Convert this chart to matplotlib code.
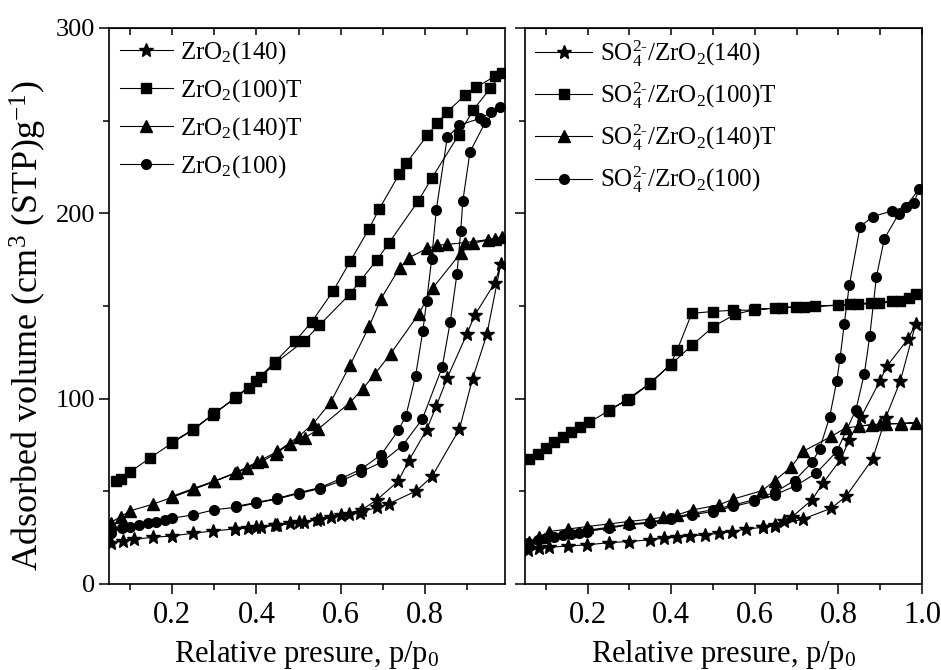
import matplotlib
matplotlib.use("Agg")
import matplotlib.pyplot as plt
from matplotlib.ticker import MultipleLocator

plt.rcParams["font.family"] = ["Liberation Serif", "DejaVu Serif"]
plt.rcParams["mathtext.fontset"] = "custom"
plt.rcParams["mathtext.rm"] = "Liberation Serif"
plt.rcParams["mathtext.it"] = "Liberation Serif:italic"
plt.rcParams["mathtext.default"] = "rm"

# ---- left panel: ZrO2 samples (adsorption branch then desorption branch) ----
zr140_p = [0.056, 0.084, 0.109, 0.155, 0.2, 0.25, 0.298, 0.349, 0.38, 0.412, 0.443, 0.48,
           0.514, 0.545, 0.576, 0.62, 0.647, 0.686, 0.714, 0.78, 0.817, 0.882, 0.913, 0.947, 0.98,
           0.966, 0.918, 0.9, 0.853, 0.827, 0.804, 0.762, 0.736, 0.686, 0.65, 0.6, 0.55, 0.5,
           0.45, 0.4, 0.35]
zr140_v = [22.3, 23.4, 24.1, 25.2, 25.9, 27.4, 28.6, 29.7, 30.4, 31.0, 31.7, 32.8,
           33.5, 34.6, 36.0, 37.5, 38.5, 41.4, 43.2, 50.3, 58.0, 83.6, 110.6, 134.6, 172.4,
           162.5, 144.9, 135.0, 111.2, 95.9, 83.2, 66.6, 55.3, 45.4, 40.0, 37.2, 35.0, 33.2,
           31.8, 30.6, 29.6]

zr100t_p = [0.067, 0.078, 0.1, 0.147, 0.2, 0.25, 0.297, 0.352, 0.382, 0.412, 0.443, 0.513,
            0.549, 0.621, 0.646, 0.686, 0.714, 0.784, 0.816, 0.88, 0.915, 0.955, 0.982,
            0.966, 0.921, 0.896, 0.853, 0.829, 0.806, 0.756, 0.739, 0.692, 0.667, 0.623,
            0.582, 0.531, 0.492, 0.443, 0.399, 0.35, 0.3, 0.25, 0.2]
zr100t_v = [55.3, 56.6, 60.4, 67.9, 76.1, 83.2, 91.4, 100.7, 106.0, 111.7, 118.9, 131.0,
            139.5, 156.2, 163.4, 174.8, 183.8, 206.6, 218.8, 242.2, 255.8, 267.4, 275.5,
            273.9, 267.9, 263.8, 254.8, 248.6, 242.2, 227.0, 221.1, 202.5, 191.5, 174.2,
            158.0, 141.3, 131.0, 119.5, 109.7, 100.5, 92.0, 83.5, 76.5]

zr140t_p = [0.054, 0.078, 0.101, 0.155, 0.2, 0.253, 0.3, 0.355, 0.378, 0.413, 0.446, 0.48,
            0.515, 0.547, 0.621, 0.652, 0.682, 0.719, 0.786, 0.819, 0.886, 0.915, 0.949, 0.984,
            0.966, 0.896, 0.853, 0.829, 0.806, 0.762, 0.74, 0.696, 0.668, 0.623, 0.576,
            0.535, 0.5, 0.45, 0.402, 0.35, 0.3, 0.25, 0.2]
zr140t_v = [33.1, 36.4, 39.5, 43.1, 46.8, 51.2, 55.3, 60.2, 62.5, 66.1, 70.3, 75.7,
            78.8, 83.6, 97.7, 105.2, 113.5, 124.3, 145.9, 159.8, 178.8, 183.8, 185.6, 187.2,
            186.3, 184.2, 183.2, 182.7, 181.1, 176.0, 170.6, 154.0, 139.1, 118.4, 98.0,
            86.5, 79.5, 71.5, 65.8, 60.0, 55.5, 51.5, 47.3]

zr100_p = [0.056, 0.08, 0.101, 0.122, 0.143, 0.162, 0.182, 0.2, 0.25, 0.3, 0.351, 0.4,
           0.45, 0.5, 0.551, 0.6, 0.649, 0.698, 0.747, 0.794, 0.841, 0.86, 0.876, 0.885,
           0.89, 0.907, 0.943, 0.978,
           0.958, 0.931, 0.882, 0.853, 0.827, 0.816, 0.804, 0.795, 0.778, 0.755, 0.737,
           0.696, 0.649, 0.6, 0.551, 0.5, 0.45, 0.4, 0.351]
zr100_v = [27.4, 30.1, 31.0, 31.9, 32.8, 33.7, 34.6, 35.5, 37.3, 40.0, 41.4, 43.6,
           45.9, 48.7, 51.5, 55.5, 60.5, 65.8, 74.7, 89.0, 117.0, 141.2, 167.0, 190.4,
           206.6, 233.1, 249.0, 257.1,
           254.4, 251.2, 247.6, 240.9, 201.8, 175.1, 152.6, 136.4, 112.4, 90.8, 82.9,
           69.7, 62.0, 56.8, 52.0, 49.3, 46.2, 44.0, 41.8]

# ---- right panel: SO4(2-)/ZrO2 samples ----
s140_p = [0.058, 0.084, 0.108, 0.153, 0.199, 0.251, 0.298, 0.348, 0.382, 0.414, 0.445, 0.481,
          0.515, 0.545, 0.579, 0.62, 0.648, 0.715, 0.783, 0.818, 0.882, 0.913, 0.948, 0.985,
          0.967, 0.916, 0.899, 0.854, 0.826, 0.806, 0.763, 0.737, 0.69, 0.669, 0.648, 0.62]
s140_v = [18.4, 19.3, 19.8, 20.5, 21.1, 22.3, 22.9, 23.8, 24.7, 25.2, 25.9, 26.5,
          27.4, 28.3, 29.6, 30.6, 31.4, 35.0, 40.9, 47.2, 67.5, 89.6, 109.4, 140.4,
          132.3, 117.5, 109.4, 90.0, 77.8, 67.4, 54.4, 45.4, 36.4, 34.2, 32.0, 30.9]

s100t_p = [0.06, 0.08, 0.1, 0.12, 0.14, 0.161, 0.182, 0.203, 0.251, 0.294, 0.348, 0.399,
           0.449, 0.501, 0.552, 0.6, 0.666, 0.717, 0.798, 0.846, 0.896, 0.947, 0.986,
           0.969, 0.929, 0.878, 0.828, 0.745, 0.698, 0.648, 0.598, 0.548, 0.499, 0.449,
           0.414, 0.399, 0.35, 0.3, 0.25]
s100t_v = [67.4, 70.3, 73.3, 76.4, 79.3, 81.8, 84.7, 87.2, 93.5, 99.5, 108.1, 118.4,
           128.7, 138.9, 145.4, 148.1, 149.0, 149.6, 150.3, 150.8, 151.4, 152.6, 156.2,
           154.4, 152.6, 151.7, 150.8, 149.9, 149.6, 149.0, 147.7, 147.7, 147.0, 146.0,
           126.1, 118.7, 108.3, 99.8, 93.8]

s140t_p = [0.06, 0.084, 0.108, 0.152, 0.199, 0.251, 0.298, 0.35, 0.38, 0.414, 0.452, 0.515,
           0.548, 0.618, 0.648, 0.687, 0.715, 0.783, 0.817, 0.88, 0.913, 0.949, 0.986,
           0.949, 0.9, 0.85]
s140t_v = [22.9, 25.2, 28.3, 29.6, 31.0, 32.4, 33.7, 35.0, 36.1, 37.3, 40.0, 42.7,
           45.8, 50.4, 55.8, 63.1, 71.5, 79.6, 84.2, 85.9, 86.5, 86.5, 87.0,
           86.6, 86.2, 85.3]

s100_p = [0.058, 0.08, 0.1, 0.12, 0.14, 0.16, 0.179, 0.199, 0.251, 0.298, 0.35, 0.399,
          0.449, 0.499, 0.548, 0.598, 0.648, 0.698, 0.747, 0.796, 0.842, 0.862, 0.875,
          0.891, 0.91, 0.944, 0.981, 0.993,
          0.961, 0.929, 0.882, 0.852, 0.826, 0.814, 0.804, 0.796, 0.779, 0.755, 0.737,
          0.695, 0.648, 0.598, 0.548, 0.499, 0.449, 0.399, 0.35, 0.3, 0.25, 0.2]
s100_v = [22.0, 23.5, 24.6, 25.6, 26.3, 27.0, 27.7, 28.3, 30.1, 31.9, 32.8, 35.0,
          37.3, 39.1, 41.8, 44.5, 48.1, 53.0, 59.8, 71.5, 94.1, 113.4, 133.7,
          165.8, 186.3, 199.5, 205.8, 213.0,
          203.6, 201.3, 198.2, 192.8, 161.1, 140.4, 122.0, 109.4, 90.1, 72.8, 65.6,
          55.8, 49.5, 45.5, 42.5, 40.0, 38.0, 35.6, 33.4, 32.3, 30.6, 29.0]

left_labels = ["ZrO$_2$(140)", "ZrO$_2$(100)T", "ZrO$_2$(140)T", "ZrO$_2$(100)"]
right_labels = [r"SO$_4^{2\text{-}}$/ZrO$_2$(140)", r"SO$_4^{2\text{-}}$/ZrO$_2$(100)T",
                r"SO$_4^{2\text{-}}$/ZrO$_2$(140)T", r"SO$_4^{2\text{-}}$/ZrO$_2$(100)"]
markers = ["*", "s", "^", "o"]
msizes = [10.5, 6.5, 8, 7]

fig = plt.figure(figsize=(9.41, 6.7), dpi=100)
ax1 = fig.add_axes([0.1158, 0.1284, 0.4208, 0.8299])
ax2 = fig.add_axes([0.5579, 0.1284, 0.4219, 0.8299])

left_data = [(zr140_p, zr140_v), (zr100t_p, zr100t_v), (zr140t_p, zr140t_v), (zr100_p, zr100_v)]
right_data = [(s140_p, s140_v), (s100t_p, s100t_v), (s140t_p, s140t_v), (s100_p, s100_v)]

for ax, data, labels, xmax in [(ax1, left_data, left_labels, 0.99),
                               (ax2, right_data, right_labels, 1.0)]:
    for (p, v), lab, m, ms in zip(data, labels, markers, msizes):
        ax.plot(p, v, color="black", lw=0.8, marker=m, ms=ms, mec="black", mfc="black", label=lab)
    ax.set_xlim(0.05, xmax)
    ax.set_ylim(0, 300)
    ax.xaxis.set_major_locator(MultipleLocator(0.2))
    ax.xaxis.set_minor_locator(MultipleLocator(0.1))
    ax.yaxis.set_major_locator(MultipleLocator(100))
    ax.yaxis.set_minor_locator(MultipleLocator(50))
    ax.tick_params(which="major", direction="out", length=7, width=1.1, pad=5)
    ax.tick_params(which="minor", direction="out", length=4, width=1.1)
    ax.tick_params(axis="x", labelsize=22)
    ax.tick_params(axis="y", labelsize=19, pad=3)
    for s in ax.spines.values():
        s.set_linewidth(1.2)
    top = ax.secondary_xaxis("top")
    top.xaxis.set_major_locator(MultipleLocator(0.1))
    top.tick_params(direction="in", length=5, width=1.1, labeltop=False)
    ax.set_xlabel("Relative presure, p/p$_0$", fontsize=22, labelpad=6)

ax1.legend(loc="upper left", frameon=False, fontsize=18, handlelength=2.1,
           handletextpad=0.3, labelspacing=0.45, borderaxespad=0.05)
ax2.legend(loc="upper left", frameon=False, fontsize=18, handlelength=2.3,
           handletextpad=0.3, labelspacing=0.45, borderaxespad=0.0)

ax1.set_xticks([0.2, 0.4, 0.6, 0.8])
ax2.set_xticks([0.2, 0.4, 0.6, 0.8, 1.0])
ax2.set_xticklabels(["0.2", "0.4", "0.6", "0.8", "1.0"])
ax2.tick_params(labelleft=False)
ax1.set_ylabel("Adsorbed volume (cm$^3$ (STP)g$^{-1}$)", fontsize=26)
ax1.yaxis.set_label_coords(-0.152, 0.465)

fig.savefig("out.png", dpi=100)
